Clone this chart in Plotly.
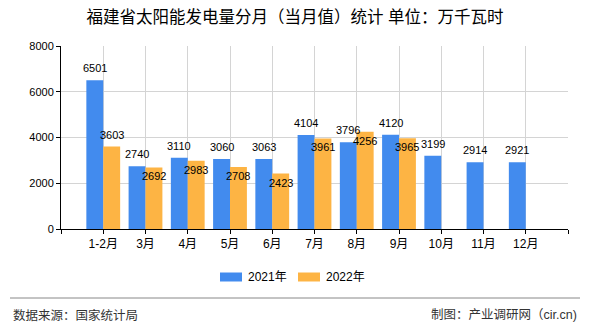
import plotly.graph_objects as go

categories = ["1-2月", "3月", "4月", "5月", "6月", "7月", "8月", "9月", "10月", "11月", "12月"]
values_2021 = [6501, 2740, 3110, 3060, 3063, 4104, 3796, 4120, 3199, 2914, 2921]
values_2022 = [3603, 2692, 2983, 2708, 2423, 3961, 4256, 3965, None, None, None]
series_names = ["2021年", "2022年"]
y_ticks = [0, 2000, 4000, 6000, 8000]

BLUE = "#428BEE"
ORANGE = "#FDB444"
FONT = "Liberation Sans, Noto Sans CJK SC, sans-serif"

W, H = 590, 330
ML, MR, MT, MB = 61, 22, 46, 101
plot_h = H - MT - MB
plot_w = W - ML - MR


def py(pix):
    return (H - MB - pix) / plot_h


def px(pix):
    return (pix - ML) / plot_w


x_idx = list(range(len(categories)))
colors = [BLUE, ORANGE]

fig = go.Figure()
fig.add_trace(go.Bar(x=x_idx, y=values_2021, name=series_names[0], marker_color=BLUE,
                     marker_line_width=0, showlegend=False))
fig.add_trace(go.Bar(x=x_idx, y=values_2022, name=series_names[1], marker_color=ORANGE,
                     marker_line_width=0, showlegend=False))

ymax = y_ticks[-1]
annotations = []
for i, (a, b) in enumerate(zip(values_2021, values_2022)):
    if a is not None:
        annotations.append(dict(x=i - 0.2, y=a, text=str(a), showarrow=False, xref="x", yref="y",
                                yshift=12, font=dict(size=11, color="#000", family=FONT)))
    if b is not None:
        inside = a is not None and abs(a - b) / ymax * plot_h < 25
        annotations.append(dict(x=i + 0.2, y=b, text=str(b), showarrow=False, xref="x", yref="y",
                                yshift=-9 if inside else 12,
                                font=dict(size=11, color="#000", family=FONT)))

# custom legend (wide rectangular swatches like the reference)
shapes = []
legend_x = [220, 298]
for k, name in enumerate(series_names):
    x0 = legend_x[k]
    shapes.append(dict(type="rect", xref="paper", yref="paper",
                       x0=px(x0), x1=px(x0 + 22), y0=py(281.5), y1=py(272.5),
                       fillcolor=colors[k], line=dict(width=0)))
    annotations.append(dict(text=name, x=px(x0 + 26), y=py(277), xref="paper", yref="paper",
                            showarrow=False, xanchor="left", yanchor="middle",
                            font=dict(size=12, color="#000", family=FONT)))

# footer
shapes.append(dict(type="line", xref="paper", yref="paper", x0=px(10), x1=px(580),
                   y0=py(298), y1=py(298), line=dict(color="#888", width=1)))
annotations.append(dict(text="数据来源：国家统计局", x=px(11), y=py(315), xref="paper", yref="paper",
                        showarrow=False, xanchor="left", yanchor="middle",
                        font=dict(size=12.5, color="#333", family=FONT)))
annotations.append(dict(text="制图：产业调研网（cir.cn)", x=px(579), y=py(315), xref="paper",
                        yref="paper", showarrow=False, xanchor="right", yanchor="middle",
                        font=dict(size=12.5, color="#333", family=FONT)))

fig.update_layout(
    width=W, height=H,
    margin=dict(l=ML, r=MR, t=MT, b=MB, pad=0),
    paper_bgcolor="white", plot_bgcolor="white",
    barmode="group", bargap=0.2, bargroupgap=0,
    showlegend=False,
    title=dict(text="福建省太阳能发电量分月（当月值）统计 单位：万千瓦时", x=295 / W, xref="container",
               xanchor="center", y=1 - 17 / H, yanchor="middle",
               font=dict(size=16.5, color="#000", family=FONT)),
    font=dict(family=FONT, color="#000"),
    xaxis=dict(range=[-1, len(categories)], tickmode="array",
               tickvals=list(range(-1, len(categories) + 1)),
               ticktext=[""] + categories + [""],
               showgrid=True, gridcolor="#d4d4d4", gridwidth=1,
               showline=True, linecolor="#000", linewidth=1,
               ticks="outside", ticklen=4, tickcolor="#000",
               tickfont=dict(size=12, color="#000", family=FONT), zeroline=False),
    yaxis=dict(range=[0, ymax], tickmode="array", tickvals=y_ticks,
               showgrid=True, gridcolor="#d4d4d4", gridwidth=1,
               showline=True, linecolor="#000", linewidth=1,
               ticks="outside", ticklen=4, tickcolor="#000",
               tickfont=dict(size=11, color="#000", family=FONT), zeroline=False),
    annotations=annotations,
    shapes=shapes,
)
fig.update_traces(cliponaxis=False)

fig.write_html("out.html")
